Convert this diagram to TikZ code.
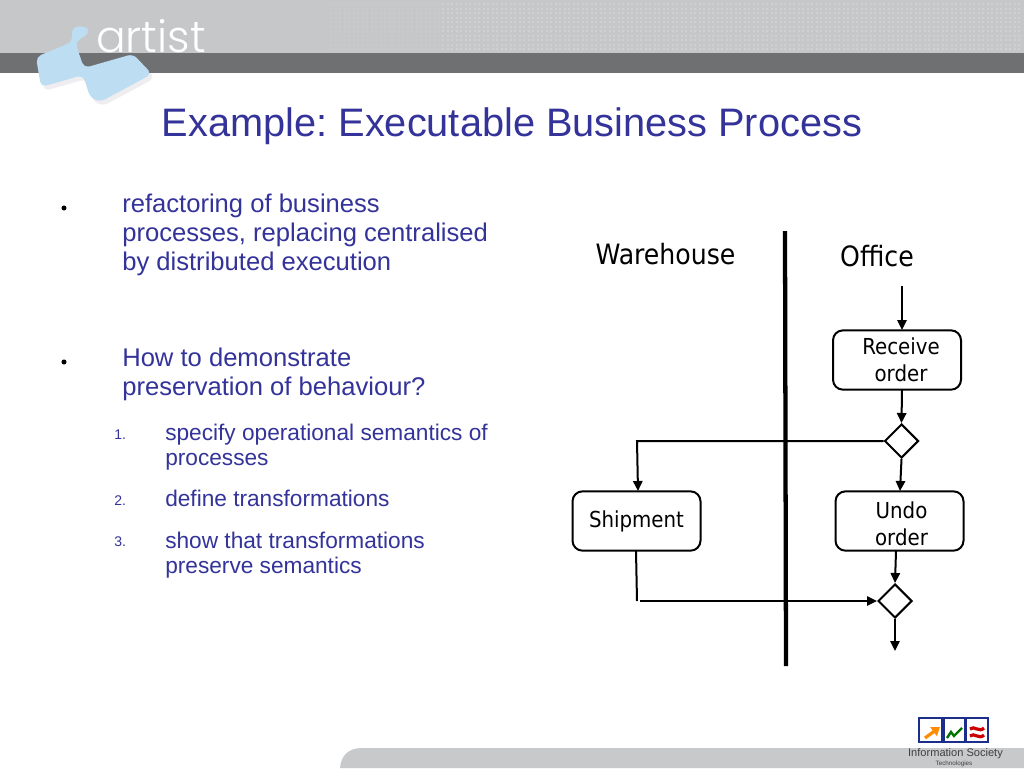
\documentclass[tikz,border=0pt]{standalone}
\usepackage{fontspec}
\setmainfont{Liberation Sans}
\newfontfamily\diagfont{DejaVu Sans Condensed}
\newfontfamily\logofont{Poppins Light}
\usetikzlibrary{shapes.geometric,arrows.meta}
\definecolor{titleblue}{HTML}{333399}
\definecolor{bandlight}{HTML}{C6C7C9}
\definecolor{banddots}{HTML}{CFD0D2}
\definecolor{banddotsfaint}{HTML}{C9CACC}
\definecolor{banddark}{HTML}{6F7072}
\definecolor{footgray}{HTML}{C8C9CB}
\definecolor{logoblue}{HTML}{BCDDF2}
\definecolor{logoshadow}{HTML}{F0EDF0}
\definecolor{istblue}{HTML}{1B2E8C}
\frenchspacing
\tikzset{
  x=0.75pt,y=-0.75pt,
  flowbox/.style={draw=black,line width=1.5pt,rounded corners=7.5pt,minimum width=96pt,minimum height=44.5pt,inner sep=0pt,fill=white},
  boxtext/.style={inner sep=0pt,align=center,font=\diagfont\fontsize{16.5}{20.25}\selectfont},
  gate/.style={draw=black,line width=1.5pt,diamond,aspect=1,minimum size=25.5pt,inner sep=0pt,fill=white},
  lane/.style={font=\diagfont\fontsize{21}{24}\selectfont,inner sep=0pt},
  flow/.style={draw=black,line width=1.5pt,-{Triangle[length=7.5pt,width=7pt]}},
  plainflow/.style={draw=black,line width=1.5pt},
  body/.style={anchor=north west,inner sep=0pt,align=left,text=titleblue,font=\fontsize{19.2}{21.75}\selectfont},
  sub/.style={anchor=north west,inner sep=0pt,align=left,text=titleblue,font=\fontsize{17}{18.9}\selectfont},
  num/.style={anchor=base west,inner sep=0pt,text=titleblue,font=\fontsize{10.5}{12}\selectfont},
  dotb/.style={circle,fill=black,inner sep=0pt,minimum size=3.8pt},
  ist/.style={draw=istblue,line width=1.6pt,fill=white,minimum height=18pt,inner sep=0pt},
}
\begin{document}
\begin{tikzpicture}
\useasboundingbox (0,0) rectangle (1024,768);
\fill[white] (0,0) rectangle (1024,768);
% logo shadow (only visible below the band)
\fill[logoshadow,rounded corners=4pt,shift={(3,4)}] (36,57) -- (72,43) -- (84,68) -- (133,54) -- (152,74) -- (100,102) -- (90,97) -- (83,75) -- (41,87) -- cycle;
% header
\fill[bandlight] (0,0) rectangle (1024,53);
\foreach \px in {330,334.5,...,440} \foreach \py in {3,7.5,...,51} \fill[banddotsfaint] (\px,\py) rectangle +(2.2,2.2);
\foreach \px in {442,446.5,...,1022} \foreach \py in {3,7.5,...,51} \fill[banddots] (\px,\py) rectangle +(2.2,2.2);
\fill[banddark] (0,53) rectangle (1024,73);
% footer band
\fill[footgray] (340,768) .. controls (341,756) and (348,748) .. (362,748) -- (1024,748) -- (1024,768) -- cycle;
% logo shapes
\fill[logoblue,rounded corners=4pt] (72,27) -- (86,26) -- (90,33) -- (75,42) -- (84,68) -- (133,54) -- (152,74) -- (100,102) -- (90,97) -- (83,75) -- (41,87) -- (36,57) -- (72,42) -- cycle;
\node[inner sep=0pt,text=white,font=\logofont\fontsize{33}{33}\selectfont] (artistlogo) at (151,36) {artist};
% title
\node[inner sep=0pt,text=titleblue,font=\fontsize{29.8}{34}\selectfont] (title) at (512,126) {Example: Executable Business Process};
% text
\node[dotb] (b1) at (64,208) {};
\node[body] (t1) at (122,193.5) {refactoring of business\\processes, replacing centralised\\by distributed execution};
\node[dotb] (b2) at (64,362) {};
\node[body] (t2) at (122,347.5) {How to demonstrate\\preservation of behaviour?};
\node[num] (n1) at (114,439) {1.};
\node[sub] (s1) at (165,424) {specify operational semantics of\\processes};
\node[num] (n2) at (114,505) {2.};
\node[sub] (s2) at (165,490) {define transformations};
\node[num] (n3) at (114,546) {3.};
\node[sub] (s3) at (165,531.5) {show that transformations\\preserve semantics};
% diagram
\coordinate (laneTop) at (785,231);
\coordinate (laneBot) at (786,666);
\draw[black,line width=3.2pt] (laneTop) -- (laneBot);
\node[lane] (wh) at (665.5,254) {Warehouse};
\node[lane] (of) at (877,256) {Office};
\node[flowbox,label={[boxtext,xshift=3pt,yshift=0.5pt]center:{Receive\\order}}] (recv) at (897,360) {};
\node[flowbox,label={[boxtext,xshift=1.5pt,yshift=-2pt]center:{Undo\\order}}] (undo) at (899.5,521) {};
\node[flowbox,label={[boxtext,yshift=-0.5pt]center:{Shipment}}] (ship) at (636.5,521) {};
\node[gate] (g1) at (901.5,441) {};
\node[gate] (g2) at (895,601) {};
\coordinate (start) at (902,286);
\coordinate (recvIn) at (902,330);
\coordinate (recvOut) at (902,390);
\coordinate (g1Left) at (637,441);
\coordinate (shipIn) at (638,491);
\coordinate (undoIn) at (900,491);
\coordinate (shipOut) at (636,551);
\coordinate (shipEnd) at (637,601);
\coordinate (g2In) at (640,601);
\coordinate (undoOut) at (896,551);
\coordinate (finish) at (895,651);
\draw[flow] (start) -- (recvIn);
\draw[flow] (recvOut) -- (g1.north);
\draw[flow] (g1.west) -- (g1Left) -- (shipIn);
\draw[flow] (g1.south) -- (undoIn);
\draw[plainflow] (shipOut) -- (shipEnd);
\draw[flow] (g2In) -- (g2.west);
\draw[flow] (undoOut) -- (g2.north);
\draw[flow] (g2.south) -- (finish);
% IST logo
\node[ist,minimum width=17pt] (ist1) at (930.5,730) {};
\node[ist,minimum width=15.5pt] (ist2) at (954.5,730) {};
\node[ist,minimum width=17pt] (ist3) at (977,730) {};
\draw[orange!90!yellow,line width=2.4pt,-{Triangle[length=6pt,width=8pt]}] (925,738) -- (940,727);
\draw[green!45!black,line width=1.8pt] (947,738) -- (951,732) -- (954,736) -- (962,728);
\draw[red!80!black,line width=2.4pt] (970,729) .. controls (974,725) and (979,733) .. (984,728);
\draw[red!80!black,line width=2.4pt] (970,736) .. controls (974,732) and (979,740) .. (984,735);
\node[inner sep=0pt,text=black!75,font=\fontsize{8.3}{9}\selectfont] (istt) at (955.5,754) {Information Society};
\node[inner sep=0pt,text=black!75,font=\fontsize{4.7}{5}\selectfont] (istt2) at (954,764) {Technologies};
\end{tikzpicture}
\end{document}
